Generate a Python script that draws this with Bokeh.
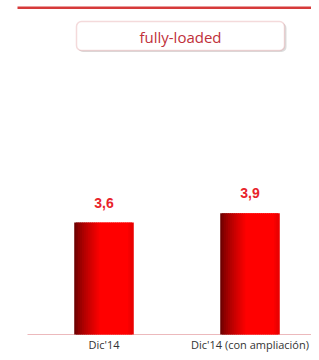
from bokeh.plotting import figure
from bokeh.models import Range1d, BoxAnnotation, ColumnDataSource, Label
from bokeh.core.properties import value
from bokeh.embed import file_html
from bokeh.resources import INLINE

# ---- data ----
categories = ["Dic'14", "Dic'14 (con ampliación)"]
values = [3.6, 3.9]
value_labels = ["3,6", "3,9"]
box_title = "fully-loaded"

# ---- layout helpers (figure pixel -> data) ----
W, H = 311, 352
BASE_PX = 334.0        # pixel row of the zero line
PX_PER_UNIT = 31.1
PX_PER_CAT = 146.0
X0 = -103.5 / PX_PER_CAT
def dx(fx):
    return X0 + fx / PX_PER_CAT
def dy(fy):
    return (BASE_PX - fy) / PX_PER_UNIT

p = figure(width=W, height=H, output_backend="svg", toolbar_location=None,
           x_range=Range1d(X0, X0 + W / PX_PER_CAT),
           y_range=Range1d(dy(H), dy(0)),
           min_border_left=0, min_border_right=0, min_border_top=0,
           min_border_bottom=0)
p.outline_line_color = None
p.grid.visible = False
p.xaxis.visible = False
p.yaxis.visible = False
p.background_fill_color = "white"
p.border_fill_color = "white"

# baseline
p.segment(x0=[dx(27)], y0=[0], x1=[dx(W)], y1=[0], line_color="#ecb9bc", line_width=1)

# gradient bars built from overlapping strips
bar_w = 58 / PX_PER_CAT
N = 30
def grad(t):
    if t < 0.45:
        s = t / 0.45
        r = int(95 + (255 - 95) * (s ** 0.7))
    elif t < 0.92:
        r = 255
    else:
        r = int(255 - (t - 0.92) / 0.08 * 25)
    return "#%02x%02x%02x" % (r, 0, 0)

xs, tops, cols = [], [], []
for i, v in enumerate(values):
    for k in range(N):
        t = (k + 0.5) / N
        xs.append(i - bar_w / 2 + t * bar_w)
        tops.append(v)
        cols.append(grad(t))
src = ColumnDataSource(dict(x=xs, top=tops, color=cols))
p.vbar(x="x", top="top", bottom=0, width=bar_w / N * 1.8, fill_color="color",
       line_color=None, source=src)

# value labels
lsrc = ColumnDataSource(dict(x=list(range(len(values))), y=values, t=value_labels))
p.text(x="x", y="y", text="t", source=lsrc, text_align="center",
       text_baseline="alphabetic", y_offset=-20, text_color="#e8232b",
       text_font=value("Liberation Sans"), text_font_style="bold",
       text_font_size="14px")

# category labels
csrc = ColumnDataSource(dict(x=list(range(len(categories))),
                             y=[0] * len(categories), t=categories))
p.text(x="x", y="y", text="t", source=csrc, text_align="center",
       text_baseline="top", y_offset=2, text_color="#333333",
       text_font=value("Open Sans"), text_font_size="11px")

# top red rule
p.add_layout(BoxAnnotation(left=dx(17), right=dx(W), top=dy(6), bottom=dy(8.5),
                           fill_color="#d63a3a", fill_alpha=1, line_color=None))

# title box with shadow
p.add_layout(BoxAnnotation(left=dx(77.5), right=dx(286), top=dy(22.5), bottom=dy(51.5),
                           fill_color="#bbbbbb", fill_alpha=0.5, line_color=None,
                           border_radius=5))
p.add_layout(BoxAnnotation(left=dx(76), right=dx(284), top=dy(21), bottom=dy(50),
                           fill_color="white", fill_alpha=1, line_color="#d98589",
                           line_width=1.5, border_radius=5))
p.add_layout(Label(x=dx(180), y=dy(36), text=box_title, text_align="center",
                   text_baseline="middle", text_color="#c0303a",
                   text_font="Open Sans", text_font_size="15px"))

open("out.html", "w").write(file_html(p, INLINE))
